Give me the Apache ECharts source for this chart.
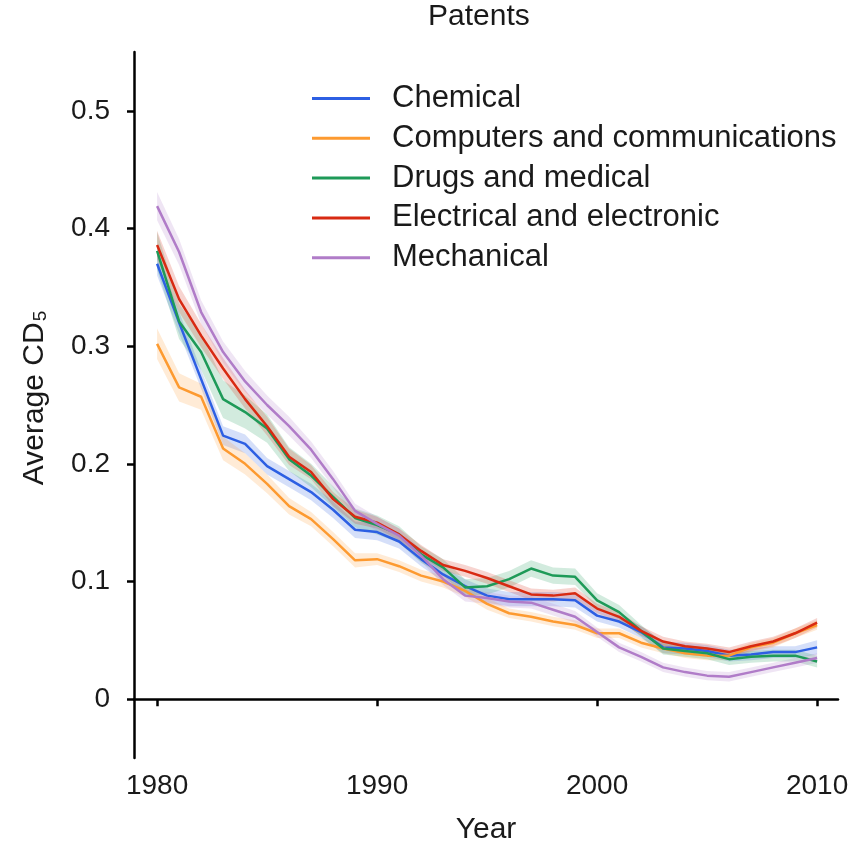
<!DOCTYPE html>
<html>
<head>
<meta charset="utf-8">
<title>Patents</title>
<script src="https://cdn.jsdelivr.net/npm/echarts@6/dist/echarts.min.js"></script>
<style>
  html, body { margin: 0; padding: 0; background: #fff; }
  #chart { width: 853px; height: 850px; }
</style>
</head>
<body>
<div id="chart"></div>
<script>
// Years on the horizontal axis
const years = [1980,1981,1982,1983,1984,1985,1986,1987,1988,1989,
               1990,1991,1992,1993,1994,1995,1996,1997,1998,1999,
               2000,2001,2002,2003,2004,2005,2006,2007,2008,2009,2010];

const categories = ['Chemical', 'Computers and communications', 'Drugs and medical',
                    'Electrical and electronic', 'Mechanical'];

// Average CD5 per year, one array per patent category
const chemical = [0.370,0.320,0.272,0.224,0.217,0.198,0.187,0.176,0.161,0.144,
                  0.142,0.134,0.119,0.106,0.096,0.088,0.085,0.085,0.085,0.084,
                  0.071,0.066,0.057,0.044,0.043,0.041,0.037,0.038,0.040,0.040,0.044];
const computers = [0.302,0.265,0.257,0.213,0.200,0.183,0.164,0.153,0.136,0.118,
                   0.119,0.113,0.105,0.100,0.092,0.081,0.073,0.070,0.066,0.063,
                   0.056,0.056,0.048,0.043,0.039,0.037,0.037,0.044,0.048,0.056,0.063];
const drugs = [0.381,0.321,0.295,0.255,0.244,0.230,0.204,0.190,0.172,0.154,
               0.148,0.140,0.123,0.112,0.095,0.096,0.102,0.111,0.105,0.104,
               0.084,0.074,0.058,0.043,0.041,0.039,0.034,0.036,0.037,0.037,0.032];
const electrical = [0.386,0.340,0.309,0.281,0.255,0.232,0.206,0.193,0.170,0.155,
                    0.150,0.140,0.126,0.114,0.109,0.103,0.096,0.089,0.088,0.090,
                    0.077,0.070,0.058,0.049,0.045,0.043,0.040,0.045,0.049,0.056,0.065];
const mechanical = [0.419,0.380,0.329,0.295,0.270,0.250,0.232,0.212,0.187,0.160,
                    0.149,0.139,0.122,0.102,0.088,0.086,0.083,0.082,0.076,0.070,
                    0.057,0.044,0.036,0.027,0.023,0.020,0.019,0.023,0.027,0.031,0.035];

// Half-widths of the confidence bands around each line
const chemicalCI = [0.010,0.009,0.008,0.008,0.008,0.007,0.007,0.007,0.007,0.007,
                    0.007,0.006,0.006,0.006,0.006,0.006,0.006,0.006,0.006,0.006,
                    0.005,0.005,0.005,0.005,0.005,0.005,0.005,0.005,0.005,0.005,0.006];
const computersCI = [0.013,0.012,0.011,0.010,0.009,0.008,0.007,0.006,0.006,0.006,
                     0.005,0.005,0.005,0.005,0.005,0.005,0.004,0.004,0.004,0.004,
                     0.004,0.004,0.004,0.004,0.004,0.004,0.004,0.004,0.004,0.004,0.004];
const drugsCI = [0.016,0.015,0.015,0.016,0.014,0.012,0.010,0.010,0.009,0.008,
                 0.008,0.007,0.007,0.007,0.007,0.007,0.007,0.007,0.007,0.007,
                 0.006,0.006,0.005,0.005,0.005,0.005,0.005,0.005,0.005,0.005,0.005];
const electricalCI = [0.012,0.011,0.010,0.009,0.008,0.008,0.007,0.006,0.006,0.006,
                      0.005,0.005,0.005,0.005,0.005,0.005,0.005,0.005,0.005,0.005,
                      0.004,0.004,0.004,0.004,0.004,0.004,0.004,0.004,0.004,0.004,0.004];
const mechanicalCI = [0.012,0.011,0.010,0.009,0.009,0.008,0.008,0.007,0.007,0.006,
                      0.006,0.006,0.005,0.005,0.005,0.005,0.005,0.005,0.005,0.005,
                      0.004,0.004,0.004,0.004,0.004,0.004,0.004,0.004,0.004,0.004,0.004];

const yTicks = [0, 0.1, 0.2, 0.3, 0.4, 0.5];
const xTicks = [1980, 1990, 2000, 2010];

const colors = ['#2d5fe3', '#fd9a30', '#1e9a58', '#d82a12', '#b07cc8'];
const values = [chemical, computers, drugs, electrical, mechanical];
const bands = [chemicalCI, computersCI, drugsCI, electricalCI, mechanicalCI];

const FONT = '"Liberation Sans", Arial, Helvetica, sans-serif';
const INK = '#1a1a1a';

function hexToRgba(hex, a) {
  const n = parseInt(hex.slice(1), 16);
  return 'rgba(' + ((n >> 16) & 255) + ',' + ((n >> 8) & 255) + ',' + (n & 255) + ',' + a + ')';
}

const series = [];
// shaded confidence bands, drawn as one polygon per category
values.forEach(function (vals, i) {
  const rows = years.map(function (y, k) { return [y, vals[k] - bands[i][k], vals[k] + bands[i][k]]; });
  series.push({
    type: 'custom', silent: true, z: 1,
    data: rows,
    encode: { x: 0, y: [1, 2] },
    renderItem: function (params, api) {
      if (params.dataIndex !== 0) return null;
      const upper = [], lower = [];
      rows.forEach(function (r) {
        upper.push(api.coord([r[0], r[2]]));
        lower.push(api.coord([r[0], r[1]]));
      });
      return {
        type: 'polygon',
        shape: { points: upper.concat(lower.reverse()) },
        style: { fill: hexToRgba(colors[i], 0.2), stroke: null }
      };
    }
  });
});
// main lines
values.forEach(function (vals, i) {
  series.push({
    name: categories[i], type: 'line', symbol: 'none', showSymbol: false, z: 3,
    color: colors[i],
    lineStyle: { color: colors[i], width: 2.5 },
    data: years.map(function (y, k) { return [y, vals[k]]; })
  });
});

const chart = echarts.init(document.getElementById('chart'), null, { renderer: 'canvas' });
chart.setOption({
  animation: false,
  backgroundColor: '#ffffff',
  textStyle: { fontFamily: FONT, color: INK },
  title: {
    text: 'Patents', left: 423, top: -3,
    textStyle: { fontFamily: FONT, fontSize: 30, fontWeight: 'normal', color: INK }
  },
  legend: {
    data: categories.map(function (c) { return { name: c, icon: 'rect' }; }),
    orient: 'vertical', left: 312, top: 83, padding: 0,
    itemWidth: 58, itemHeight: 3, itemGap: 8.8,
    textStyle: { fontFamily: FONT, fontSize: 31, color: INK, lineHeight: 30, padding: [0, 0, 0, 17] }
  },
  grid: { left: 134, right: 15, top: 52, bottom: 90, containLabel: false },
  xAxis: {
    type: 'value', min: 1978.95, max: 2010.95,
    name: 'Year', nameLocation: 'middle', nameGap: 57,
    nameTextStyle: { fontFamily: FONT, fontSize: 30, color: INK },
    axisLine: { show: true, lineStyle: { color: '#000', width: 2.5 } },
    axisTick: { show: true, length: 7, lineStyle: { color: '#000', width: 2.5 }, customValues: xTicks },
    axisLabel: {
      fontFamily: FONT, fontSize: 28, color: INK, margin: 14, customValues: xTicks,
      formatter: function (v) { return String(Math.round(v)); }
    },
    splitLine: { show: false }
  },
  yAxis: {
    type: 'value', min: -0.05, max: 0.55,
    name: '{a|Average CD}{s|5}', nameLocation: 'middle', nameGap: 84, nameRotate: 90,
    nameTextStyle: {
      fontFamily: FONT, color: INK,
      rich: {
        a: { fontFamily: FONT, fontSize: 30, color: INK, padding: [0, 0, 0, 14] },
        s: { fontFamily: FONT, fontSize: 19, color: INK, padding: [12, 0, 0, 1] }
      }
    },
    axisLine: { show: true, lineStyle: { color: '#000', width: 2.5 } },
    axisTick: { show: true, length: 7, lineStyle: { color: '#000', width: 2.5 }, customValues: yTicks },
    axisLabel: {
      fontFamily: FONT, fontSize: 28, color: INK, margin: 24, customValues: yTicks,
      formatter: function (v) { return v === 0 ? '0' : String(Math.round(v * 10) / 10); }
    },
    splitLine: { show: false }
  },
  series: series
});
</script>
</body>
</html>
